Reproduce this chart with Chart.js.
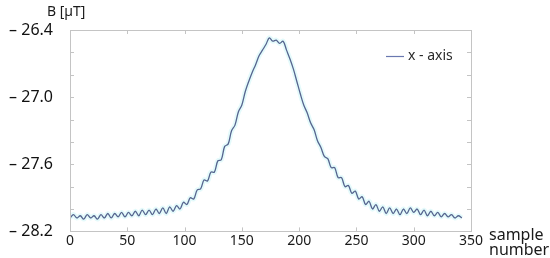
<!DOCTYPE html>
<html><head><meta charset="utf-8">
<script src="https://cdn.jsdelivr.net/npm/chart.js@4/dist/chart.umd.min.js"></script>
<style>html,body{margin:0;padding:0;background:#fff}#wrap{width:550px;height:258px;position:relative}</style>
</head><body><div id="wrap"><canvas id="c" width="550" height="258"></canvas></div>
<script>
const samples = [0,3,6,9,12,15,18,21,24,27,30,33,36,39,42,45,48,51,54,57,60,63,66,69,72,75,78,81,84,87,90,93,96,99,102,105,108,111,114,117,120,123,126,129,132,135,138,141,144,147,150,153,156,159,162,165,168,171,174,177,180,183,186,189,192,195,198,201,204,207,210,213,216,219,222,225,228,231,234,237,240,243,246,249,252,255,258,261,264,267,270,273,276,279,282,285,288,291,294,297,300,303,306,309,312,315,318,321,324,327,330,333,336,339,342];
const bValues = [-28.08,-28.05,-28.08,-28.06,-28.09,-28.05,-28.08,-28.06,-28.09,-28.05,-28.08,-28.04,-28.08,-28.04,-28.07,-28.03,-28.07,-28.03,-28.06,-28.02,-28.06,-28.01,-28.05,-28.01,-28.05,-28.00,-28.04,-27.99,-28.04,-27.98,-28.02,-27.97,-28.00,-27.94,-27.96,-27.90,-27.91,-27.83,-27.82,-27.74,-27.75,-27.67,-27.67,-27.57,-27.56,-27.44,-27.42,-27.30,-27.25,-27.13,-27.07,-26.95,-26.86,-26.78,-26.71,-26.63,-26.58,-26.53,-26.47,-26.50,-26.49,-26.52,-26.50,-26.58,-26.66,-26.75,-26.86,-26.97,-27.07,-27.14,-27.23,-27.29,-27.39,-27.45,-27.53,-27.55,-27.63,-27.63,-27.72,-27.72,-27.80,-27.79,-27.86,-27.84,-27.91,-27.89,-27.96,-27.93,-28.00,-27.96,-28.02,-27.98,-28.04,-27.99,-28.04,-28.00,-28.05,-28.00,-28.04,-27.99,-28.03,-28.00,-28.05,-28.01,-28.06,-28.02,-28.06,-28.03,-28.07,-28.04,-28.07,-28.05,-28.08,-28.06,-28.08];
const yLabelTicks = [-28.2,-27.6,-27.0,-26.4];
const xTicks = [0,50,100,150,200,250,300,350];
const seriesName = 'x - axis';
const yTitle = 'B [\u00b5T]';
const xTitle = ['sample','number'];

const FONT = '"Noto Sans", "Open Sans", sans-serif';
const AXIS = '#c4c4c4';
const pts = samples.map((s,i)=>({x:s,y:bValues[i]}));

const decor = {
  id:'decor',
  afterDraw(chart){
    const ctx = chart.ctx, a = chart.chartArea, xs = chart.scales.x, ys = chart.scales.y;
    ctx.save();
    ctx.strokeStyle = AXIS; ctx.lineWidth = 1;
    ctx.strokeRect(Math.round(a.left)+0.5, Math.round(a.top)+0.5, Math.round(a.right-a.left), Math.round(a.bottom-a.top));
    ctx.beginPath();
    for (let v=-28.2; v<=-26.39; v+=0.2){
      const y = Math.round(ys.getPixelForValue(v))+0.5;
      ctx.moveTo(a.left, y); ctx.lineTo(a.left+4, y);
      ctx.moveTo(a.right, y); ctx.lineTo(a.right-4, y);
    }
    xTicks.forEach(v=>{
      const x = Math.round(xs.getPixelForValue(v))+0.5;
      ctx.moveTo(x, a.top); ctx.lineTo(x, a.top+4);
      ctx.moveTo(x, a.bottom); ctx.lineTo(x, a.bottom-4);
    });
    ctx.stroke();
    ctx.fillStyle = '#1a1a1a';
    ctx.font = '14px ' + FONT;
    ctx.textBaseline = 'middle'; ctx.textAlign = 'left';
    ctx.fillText(yTitle, 47, 12);
    ctx.font = '16px ' + FONT;
    ctx.fillText(xTitle[0], 489, 235);
    ctx.fillText(xTitle[1], 489, 250);
    ctx.strokeStyle = '#6a78b0'; ctx.lineWidth = 1.2;
    ctx.beginPath(); ctx.moveTo(386, 56.5); ctx.lineTo(404, 56.5); ctx.stroke();
    ctx.fillStyle = '#2a2a2a'; ctx.font = '14px ' + FONT;
    ctx.fillText(chart.data.datasets[1].label, 408, 56);
    ctx.restore();
  }
};

new Chart(document.getElementById('c'), {
  type:'line',
  data:{datasets:[
    {label:'halo', order:2, data:pts, borderColor:'rgba(205,246,248,0.55)', borderWidth:5, pointRadius:0, tension:0.35, fill:false},
    {label:seriesName, order:1, data:pts, borderColor:'#56658f', borderWidth:1.3, pointRadius:0, tension:0.35, fill:false}
  ]},
  plugins:[decor],
  options:{
    responsive:false, animation:false, devicePixelRatio:1,
    layout:{padding:{top:30,right:79,left:0,bottom:0}},
    plugins:{legend:{display:false}, tooltip:{enabled:false}},
    scales:{
      x:{type:'linear', min:0, max:350,
        afterFit(s){ s.height = 21; },
        afterBuildTicks(s){ s.ticks = xTicks.map(v=>({value:v})); },
        grid:{display:false, drawTicks:false}, border:{display:false},
        ticks:{color:'#1a1a1a', font:{family:FONT, size:14}, padding:1, maxRotation:0}
      },
      y:{type:'linear', min:-28.2, max:-26.4,
        afterFit(s){ s.width = 70; },
        afterBuildTicks(s){ s.ticks = yLabelTicks.map(v=>({value:v})); },
        grid:{display:false, drawTicks:false}, border:{display:false},
        ticks:{color:'#111', font:{family:FONT, size:16}, padding:17,
          callback:(v)=>'\u2013 ' + Math.abs(v).toFixed(1)}
      }
    }
  }
});
</script></body></html>
